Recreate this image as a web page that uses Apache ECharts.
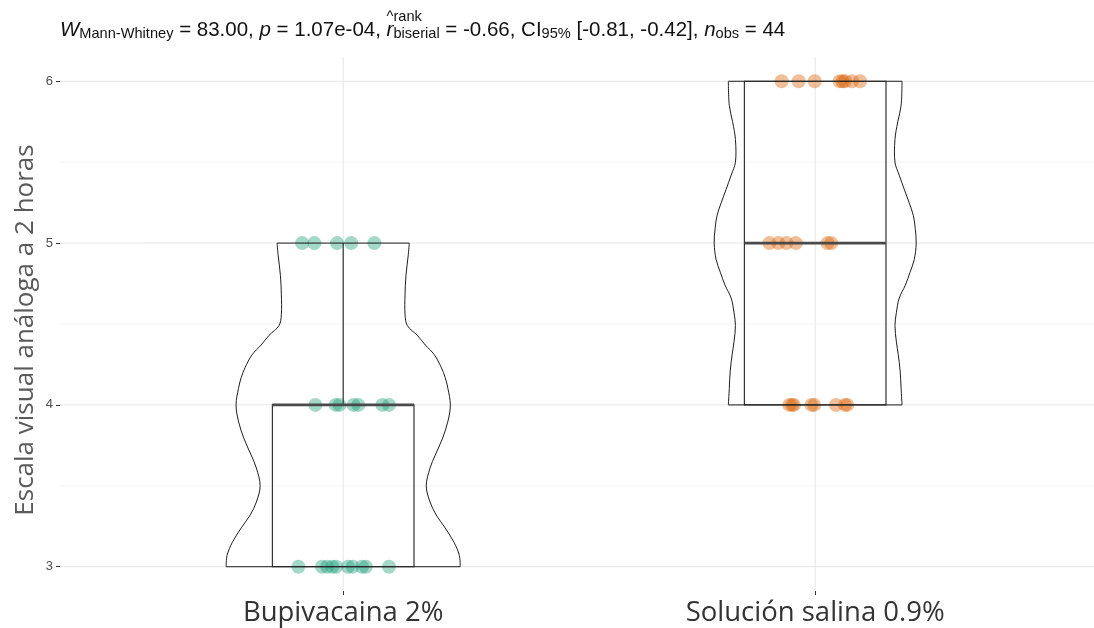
<!DOCTYPE html>
<html>
<head>
<meta charset="utf-8">
<script src="https://cdn.jsdelivr.net/npm/echarts@6/dist/echarts.min.js"></script>
<style>
  html, body { margin: 0; padding: 0; background: #ffffff; }
  #chart { width: 1094px; height: 628px; }
</style>
</head>
<body>
<div id="chart"></div>
<script>
// ---- data -------------------------------------------------------------
const categories = ['Bupivacaina 2%', 'Solución salina 0.9%'];
const yTickValues = [3, 4, 5, 6];
const yMinorValues = [3.5, 4.5, 5.5];

// Bupivacaina 2%: pain scores and their jittered horizontal positions
const bupiScores = [5, 5, 5, 5, 5,
                    4, 4, 4, 4, 4, 4, 4,
                    3, 3, 3, 3, 3, 3, 3, 3, 3, 3];
const bupiJitter = [0.913, 0.939, 0.987, 1.017, 1.066,
                    0.941, 0.984, 0.992, 1.022, 1.032, 1.083, 1.097,
                    0.905, 0.955, 0.966, 0.977, 0.985, 1.010, 1.020, 1.040, 1.048, 1.097];

// Solución salina 0.9%: pain scores and their jittered horizontal positions
const salinaScores = [6, 6, 6, 6, 6, 6, 6, 6,
                      5, 5, 5, 5, 5, 5,
                      4, 4, 4, 4, 4, 4, 4, 4];
const salinaJitter = [1.929, 1.965, 1.999, 2.052, 2.058, 2.063, 2.078, 2.095,
                      1.903, 1.922, 1.939, 1.959, 2.026, 2.034,
                      1.945, 1.951, 1.955, 1.992, 1.998, 2.044, 2.063, 2.068];

// Violin outlines: [score, half width of the density in x-axis units]
const bupiViolin = [
  [3.00, 0.248], [3.07, 0.246], [3.15, 0.235], [3.24, 0.216], [3.32, 0.197],
  [3.40, 0.184], [3.50, 0.176], [3.61, 0.184], [3.69, 0.195], [3.79, 0.210],
  [3.90, 0.222], [4.00, 0.227], [4.10, 0.222], [4.17, 0.216], [4.23, 0.208],
  [4.31, 0.193], [4.37, 0.174], [4.43, 0.157], [4.49, 0.136], [4.56, 0.131],
  [4.68, 0.131], [4.80, 0.133], [4.93, 0.138], [5.00, 0.140]
];
const salinaViolin = [
  [4.00, 0.184], [4.10, 0.182], [4.21, 0.180], [4.31, 0.176], [4.39, 0.172],
  [4.49, 0.169], [4.57, 0.172], [4.66, 0.178], [4.74, 0.191], [4.82, 0.201],
  [4.90, 0.210], [5.00, 0.214], [5.09, 0.212], [5.17, 0.208], [5.25, 0.199],
  [5.33, 0.189], [5.42, 0.178], [5.50, 0.169], [5.64, 0.169], [5.75, 0.175],
  [5.85, 0.182], [6.00, 0.184]
];

// ---- helpers ----------------------------------------------------------
function quantile(sorted, p) {
  const h = (sorted.length - 1) * p;
  const lo = Math.floor(h);
  const hi = Math.min(lo + 1, sorted.length - 1);
  return sorted[lo] + (h - lo) * (sorted[hi] - sorted[lo]);
}
function boxStats(values, pos) {
  const s = values.slice().sort((a, b) => a - b);
  const q1 = quantile(s, 0.25), med = quantile(s, 0.5), q3 = quantile(s, 0.75);
  const iqr = q3 - q1;
  const lo = s.filter(v => v >= q1 - 1.5 * iqr)[0];
  const hiArr = s.filter(v => v <= q3 + 1.5 * iqr);
  const hi = hiArr[hiArr.length - 1];
  return { pos, q1, med, q3, lo, hi };
}

const boxes = [boxStats(bupiScores, 1), boxStats(salinaScores, 2)];
const violins = [{ pos: 1, outline: bupiViolin }, { pos: 2, outline: salinaViolin }];
const BOX_HALF = 0.15;

// background grid lines (major at ticks, minor between)
const gridLines = []
  .concat(yTickValues.map(v => ({ dir: 'h', v, major: true })))
  .concat(yMinorValues.map(v => ({ dir: 'h', v, major: false })))
  .concat([1, 2].map(v => ({ dir: 'v', v, major: true })));

const TEXT_FONT = 'Liberation Sans';

// ---- chart ------------------------------------------------------------
const chart = echarts.init(document.getElementById('chart'), null, { renderer: 'canvas' });

const titleLine1 =
  '{gi|W}{gs|Mann-Whitney}{g| = 83.00, }{gi|p}{g| = 1.07e-04, }{sup|^rank}';
const titleLine2 =
  '{it|W}{sub|Mann-Whitney}{m| = 83.00, }{it|p}{m| = 1.07e-04, }{it|r}{sub|biserial}' +
  '{m| = -0.66, CI}{sub|95%}{m| [-0.81, -0.42], }{it|n}{sub|obs}{m| = 44}';

const MAIN = 20.5, SMALL = 14.6;

chart.setOption({
  animation: false,
  backgroundColor: '#ffffff',
  title: {
    left: 60,
    top: 15,
    padding: 0,
    text: titleLine1 + '\n' + titleLine2,
    textStyle: {
      fontFamily: TEXT_FONT,
      fontWeight: 'normal',
      fontSize: MAIN,
      color: '#111111',
      rich: {
        g:   { fontFamily: TEXT_FONT, fontSize: MAIN, lineHeight: 4, color: 'transparent' },
        gi:  { fontFamily: TEXT_FONT, fontSize: MAIN, lineHeight: 4, fontStyle: 'italic', color: 'transparent' },
        gs:  { fontFamily: TEXT_FONT, fontSize: SMALL, lineHeight: 4, color: 'transparent' },
        sup: { fontFamily: TEXT_FONT, fontSize: SMALL, lineHeight: 4, color: '#111111' },
        m:   { fontFamily: TEXT_FONT, fontSize: MAIN, lineHeight: 22, color: '#111111' },
        it:  { fontFamily: TEXT_FONT, fontSize: MAIN, lineHeight: 22, fontStyle: 'italic', color: '#111111' },
        sub: { fontFamily: TEXT_FONT, fontSize: SMALL, lineHeight: 12, verticalAlign: 'bottom', color: '#111111' }
      }
    }
  },
  grid: { left: 60, right: 0, top: 57, bottom: 37, containLabel: false },
  xAxis: {
    type: 'value',
    min: 0.4,
    max: 2.5907,
    splitLine: { show: false },
    axisLine: { show: false },
    axisTick: { show: true, customValues: [1, 2], length: 4, lineStyle: { color: '#333333', width: 1 } },
    axisLabel: {
      customValues: [1, 2],
      formatter: v => categories[Math.round(v) - 1],
      fontFamily: 'Open Sans',
      fontSize: 27.5,
      color: '#333333',
      margin: 8
    }
  },
  yAxis: {
    type: 'value',
    min: 2.85,
    max: 6.15,
    splitLine: { show: false },
    axisLine: { show: false },
    axisTick: { show: true, customValues: yTickValues, length: 4, lineStyle: { color: '#333333', width: 1 } },
    axisLabel: {
      customValues: yTickValues,
      fontFamily: TEXT_FONT,
      fontSize: 13,
      color: '#4d4d4d',
      margin: 7
    }
  },
  graphic: [{
    type: 'text',
    x: 26,
    y: 330,
    rotation: Math.PI / 2,
    style: {
      text: 'Escala visual análoga a 2 horas',
      font: '26px "Open Sans"',
      fill: '#5a5a5a',
      align: 'center',
      verticalAlign: 'middle'
    }
  }],
  series: [
    {
      // panel grid lines
      type: 'custom',
      z: 0,
      silent: true,
      clip: false,
      data: gridLines.map(() => [1, 4]),
      renderItem(params, api) {
        const g = gridLines[params.dataIndex];
        const cs = params.coordSys;
        const color = g.major ? '#e6e6e6' : '#f3f3f3';
        if (g.dir === 'h') {
          const y = api.coord([1, g.v])[1];
          return { type: 'line', shape: { x1: cs.x, y1: y, x2: cs.x + cs.width, y2: y },
                   style: { stroke: color, lineWidth: 1 } };
        }
        const x = api.coord([g.v, 4])[0];
        return { type: 'line', shape: { x1: x, y1: cs.y, x2: x, y2: cs.y + cs.height },
                 style: { stroke: color, lineWidth: 1 } };
      }
    },
    {
      name: categories[0],
      type: 'scatter',
      z: 2,
      symbolSize: 14,
      itemStyle: { color: 'rgba(27,158,119,0.5)' },
      data: bupiScores.map((v, i) => [bupiJitter[i], v])
    },
    {
      name: categories[1],
      type: 'scatter',
      z: 2,
      symbolSize: 14,
      itemStyle: { color: 'rgba(217,95,2,0.5)' },
      data: salinaScores.map((v, i) => [salinaJitter[i], v])
    },
    {
      // box plots
      type: 'custom',
      z: 3,
      silent: true,
      clip: false,
      data: boxes.map(b => [b.pos, b.med]),
      renderItem(params, api) {
        const b = boxes[params.dataIndex];
        const tl = api.coord([b.pos - BOX_HALF, b.q3]);
        const br = api.coord([b.pos + BOX_HALF, b.q1]);
        const cx = api.coord([b.pos, b.med])[0];
        const children = [
          { type: 'rect', shape: { x: tl[0], y: tl[1], width: br[0] - tl[0], height: br[1] - tl[1] },
            style: { fill: 'none', stroke: '#333333', lineWidth: 1.2 } }
        ];
        if (b.hi > b.q3) {
          children.push({ type: 'line',
            shape: { x1: cx, y1: api.coord([b.pos, b.q3])[1], x2: cx, y2: api.coord([b.pos, b.hi])[1] },
            style: { stroke: '#333333', lineWidth: 1.2 } });
        }
        if (b.lo < b.q1) {
          children.push({ type: 'line',
            shape: { x1: cx, y1: api.coord([b.pos, b.q1])[1], x2: cx, y2: api.coord([b.pos, b.lo])[1] },
            style: { stroke: '#333333', lineWidth: 1.2 } });
        }
        const my = api.coord([b.pos, b.med])[1];
        children.push({ type: 'line', shape: { x1: tl[0], y1: my, x2: br[0], y2: my },
          style: { stroke: '#4a4a4a', lineWidth: 2.8 } });
        return { type: 'group', children };
      }
    },
    {
      // violins
      type: 'custom',
      z: 4,
      silent: true,
      clip: false,
      data: violins.map(v => [v.pos, v.outline[0][0]]),
      renderItem(params, api) {
        const v = violins[params.dataIndex];
        const right = v.outline.map(([y, w]) => api.coord([v.pos + w, y]));
        const left = v.outline.map(([y, w]) => api.coord([v.pos - w, y]));
        const first = v.outline[0], last = v.outline[v.outline.length - 1];
        const style = { fill: 'none', stroke: '#1e1e1e', lineWidth: 1 };
        const bl = api.coord([v.pos - first[1], first[0]]), brr = api.coord([v.pos + first[1], first[0]]);
        const tl = api.coord([v.pos - last[1], last[0]]), tr = api.coord([v.pos + last[1], last[0]]);
        return {
          type: 'group',
          children: [
            { type: 'polyline', shape: { points: right, smooth: 0.35 }, style },
            { type: 'polyline', shape: { points: left, smooth: 0.35 }, style },
            { type: 'line', shape: { x1: bl[0], y1: bl[1], x2: brr[0], y2: brr[1] }, style },
            { type: 'line', shape: { x1: tl[0], y1: tl[1], x2: tr[0], y2: tr[1] }, style }
          ]
        };
      }
    }
  ]
});
</script>
</body>
</html>
